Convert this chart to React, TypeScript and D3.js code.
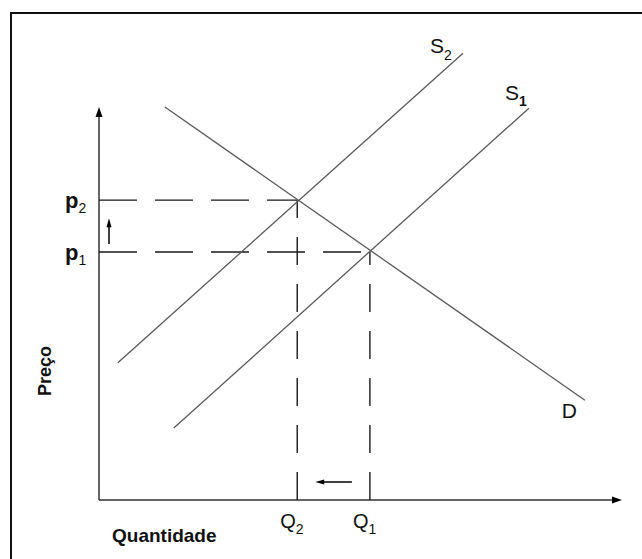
import React from 'react';
import * as d3 from 'd3';

// quantity / price in arbitrary units (axis runs 0..10)
const demand: [number, number][] = [
  [1.26, 10.0],
  [9.29, 2.54],
];
const supply1: [number, number][] = [
  [1.43, 1.83],
  [8.22, 9.97],
];
const supply2: [number, number][] = [
  [0.36, 3.49],
  [6.96, 11.37],
];

const quantities = [
  { name: 'Q', sub: '2', value: 3.79 },
  { name: 'Q', sub: '1', value: 5.18 },
];
const prices = [
  { name: 'p', sub: '2', value: 7.63 },
  { name: 'p', sub: '1', value: 6.31 },
];

const FONT = '"Liberation Sans", Arial, sans-serif';

const App = () => {
  const width = 642;
  const height = 559;

  const x = d3.scaleLinear().domain([0, 10]).range([99, 622]);
  const y = d3.scaleLinear().domain([0, 10]).range([500, 107]);

  const line = d3
    .line<[number, number]>()
    .x((d) => x(d[0]))
    .y((d) => y(d[1]));

  const x0 = x(0);
  const y0 = y(0);
  const xEnd = x(10);
  const yEnd = y(10);

  const [q2, q1] = quantities;
  const [p2, p1] = prices;

  const curveStyle = { fill: 'none', stroke: '#5a5a5a', strokeWidth: 1.3 };
  const dashStyle = { fill: 'none', stroke: '#1a1a1a', strokeWidth: 1.4 };

  const s1End = supply1[1];
  const s2End = supply2[1];
  const dEnd = demand[1];

  return (
    <svg
      width={width}
      height={height}
      style={{ position: 'absolute', left: 0, top: 0, background: '#fff' }}
      fontFamily={FONT}
    >
      <rect x={11} y={13} width={700} height={700} fill="none" stroke="#111" strokeWidth={2} />

      {/* axes */}
      <line x1={x0} y1={y0} x2={x0} y2={yEnd + 8} stroke="#333" strokeWidth={1.5} />
      <path d={`M${x0},${yEnd} L${x0 - 3.5},${yEnd + 10} L${x0 + 3.5},${yEnd + 10} Z`} fill="#000" />
      <line x1={x0} y1={y0} x2={xEnd - 8} y2={y0} stroke="#333" strokeWidth={1.5} />
      <path d={`M${xEnd},${y0} L${xEnd - 10},${y0 - 3.5} L${xEnd - 10},${y0 + 3.5} Z`} fill="#000" />

      {/* dashed guides */}
      {prices.map((p, i) => (
        <line
          key={'h' + i}
          x1={x0}
          y1={y(p.value)}
          x2={x(quantities[i].value)}
          y2={y(p.value)}
          style={dashStyle}
          strokeDasharray="38,18"
        />
      ))}
      {quantities.map((q, i) => (
        <line
          key={'v' + i}
          x1={x(q.value)}
          y1={y0}
          x2={x(q.value)}
          y2={y(prices[i].value)}
          style={dashStyle}
          strokeDasharray="28,19"
        />
      ))}

      {/* curves */}
      <path d={line(demand) || ''} style={curveStyle} />
      <path d={line(supply1) || ''} style={curveStyle} />
      <path d={line(supply2) || ''} style={curveStyle} />

      {/* shift arrows */}
      <line x1={x0 + 10} y1={y(p1.value) - 8} x2={x0 + 10} y2={y(p2.value) + 26} stroke="#000" strokeWidth={1.5} />
      <path
        d={`M${x0 + 10},${y(p2.value) + 18} L${x0 + 7.5},${y(p2.value) + 27} L${x0 + 12.5},${y(p2.value) + 27} Z`}
        fill="#000"
      />
      <line x1={x(q1.value) - 18} y1={y0 - 18} x2={x(q2.value) + 26} y2={y0 - 18} stroke="#000" strokeWidth={1.5} />
      <path
        d={`M${x(q2.value) + 18},${y0 - 18} L${x(q2.value) + 27},${y0 - 20.5} L${x(q2.value) + 27},${y0 - 15.5} Z`}
        fill="#000"
      />

      {/* price labels */}
      {prices.map((p, i) => (
        <text key={'pl' + i} x={x0 - 34} y={y(p.value) + 8} fontSize={22} fontWeight="bold" fill="#111">
          {p.name}
          <tspan fontSize={14} fontWeight="normal" dy={5}>
            {p.sub}
          </tspan>
        </text>
      ))}

      {/* quantity labels */}
      {quantities.map((q, i) => (
        <text key={'ql' + i} x={x(q.value) - 17} y={y0 + 28} fontSize={20} fill="#111">
          {q.name}
          <tspan fontSize={14} dy={6}>
            {q.sub}
          </tspan>
        </text>
      ))}

      {/* curve labels */}
      <text x={x(s2End[0]) - 33} y={y(s2End[1]) + 0} fontSize={21} fill="#111">
        S<tspan fontSize={14} dy={7}>2</tspan>
      </text>
      <text x={x(s1End[0]) - 24} y={y(s1End[1]) - 8} fontSize={21} fill="#111">
        S<tspan fontSize={14} fontWeight="bold" dy={6}>1</tspan>
      </text>
      <text x={x(dEnd[0]) - 23} y={y(dEnd[1]) + 18} fontSize={21} fill="#111">
        D
      </text>

      {/* axis titles */}
      <text
        transform={`translate(${x0 - 48},371) rotate(-90)`}
        textAnchor="middle"
        fontSize={18}
        fontWeight="bold"
        fill="#111"
      >
        Preço
      </text>
      <text x={x0 + 13} y={y0 + 42} fontSize={19} fontWeight="bold" fill="#111">
        Quantidade
      </text>
    </svg>
  );
};

export default App;
